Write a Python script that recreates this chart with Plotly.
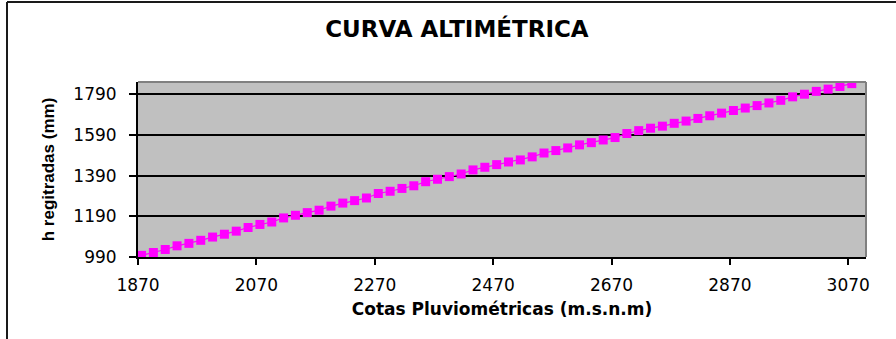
import plotly.graph_objects as go

# Rain gauge elevations (m.s.n.m) and recorded depth h (mm)
cotas = [1876, 1896, 1916, 1936, 1956, 1976, 1996, 2016, 2036, 2056,
         2076, 2096, 2116, 2136, 2156, 2176, 2196, 2216, 2236, 2256,
         2276, 2296, 2316, 2336, 2356, 2376, 2396, 2416, 2436, 2456,
         2476, 2496, 2516, 2536, 2556, 2576, 2596, 2616, 2636, 2656,
         2676, 2696, 2716, 2736, 2756, 2776, 2796, 2816, 2836, 2856,
         2876, 2896, 2916, 2936, 2956, 2976, 2996, 3016, 3036, 3056, 3076]
h_registradas = [998, 1012, 1027, 1045, 1057, 1072, 1088, 1102, 1117, 1135,
                 1150, 1162, 1182, 1195, 1208, 1220, 1240, 1255, 1267, 1280,
                 1302, 1313, 1327, 1340, 1360, 1372, 1385, 1398, 1418, 1431,
                 1444, 1457, 1467, 1482, 1501, 1513, 1526, 1541, 1552, 1565,
                 1577, 1597, 1611, 1623, 1633, 1647, 1658, 1671, 1684, 1697,
                 1710, 1722, 1734, 1747, 1760, 1777, 1790, 1804, 1815, 1828, 1842]

x_ticks = [1870, 2070, 2270, 2470, 2670, 2870, 3070]
y_ticks = [990, 1190, 1390, 1590, 1790]

MAGENTA = "#FF00FF"
TICK_FONT = dict(family="DejaVu Sans", size=17, color="black")

fig = go.Figure()
fig.add_trace(go.Scatter(
    x=cotas, y=h_registradas,
    mode="lines+markers",
    line=dict(color=MAGENTA, width=1.2),
    marker=dict(symbol="square", size=9, color=MAGENTA, line=dict(width=0)),
    showlegend=False,
    hoverinfo="x+y",
))

fig.update_layout(
    width=896, height=339,
    margin=dict(l=138, r=30, t=82, b=82),
    paper_bgcolor="white",
    plot_bgcolor="#C0C0C0",
    title=dict(
        text="<b>CURVA ALTIMÉTRICA</b>",
        font=dict(family="DejaVu Sans", size=23, color="black"),
        x=0.51, xanchor="center",
        y=1 - 29 / 339, yanchor="middle",
    ),
    xaxis=dict(
        range=[1870, 3100],
        tickmode="array", tickvals=x_ticks,
        ticktext=[str(v) for v in x_ticks],
        ticks="outside", ticklen=6, tickwidth=1.5, tickcolor="black",
        tickfont=TICK_FONT, ticklabelstandoff=6,
        showgrid=False, zeroline=False,
        showline=True, linecolor="black", linewidth=2,
        title=dict(text="<b>Cotas Pluviométricas (m.s.n.m)</b>",
                   font=dict(family="DejaVu Sans", size=17, color="black"),
                   standoff=9),
    ),
    yaxis=dict(
        range=[990, 1850],
        tickmode="array", tickvals=y_ticks,
        ticktext=[str(v) for v in y_ticks],
        ticks="outside", ticklen=7, tickwidth=1.5, tickcolor="black",
        tickfont=TICK_FONT, ticklabelstandoff=9,
        showgrid=True, gridcolor="black", gridwidth=1.5,
        zeroline=False,
        showline=True, linecolor="black", linewidth=2,
        title=dict(text="<b>h regitradas (mm)</b>",
                   font=dict(family="Liberation Sans", size=17, color="black"),
                   standoff=14),
    ),
    shapes=[
        # grey frame on the top and right of the plot area
        dict(type="line", xref="paper", yref="paper", x0=0, y0=1, x1=1, y1=1,
             line=dict(color="#808080", width=2)),
        dict(type="line", xref="paper", yref="paper", x0=1, y0=0, x1=1, y1=1,
             line=dict(color="#808080", width=2)),
        # outer chart border (top and left edges)
        dict(type="line", xref="paper", yref="paper",
             x0=(7 - 138) / 728, y0=(257 - 2) / 175,
             x1=(900 - 138) / 728, y1=(257 - 2) / 175,
             line=dict(color="#1a1a1a", width=2)),
        dict(type="line", xref="paper", yref="paper",
             x0=(7 - 138) / 728, y0=(257 - 2) / 175,
             x1=(7 - 138) / 728, y1=(257 - 345) / 175,
             line=dict(color="#1a1a1a", width=2)),
    ],
)

fig.write_html("out.html")
